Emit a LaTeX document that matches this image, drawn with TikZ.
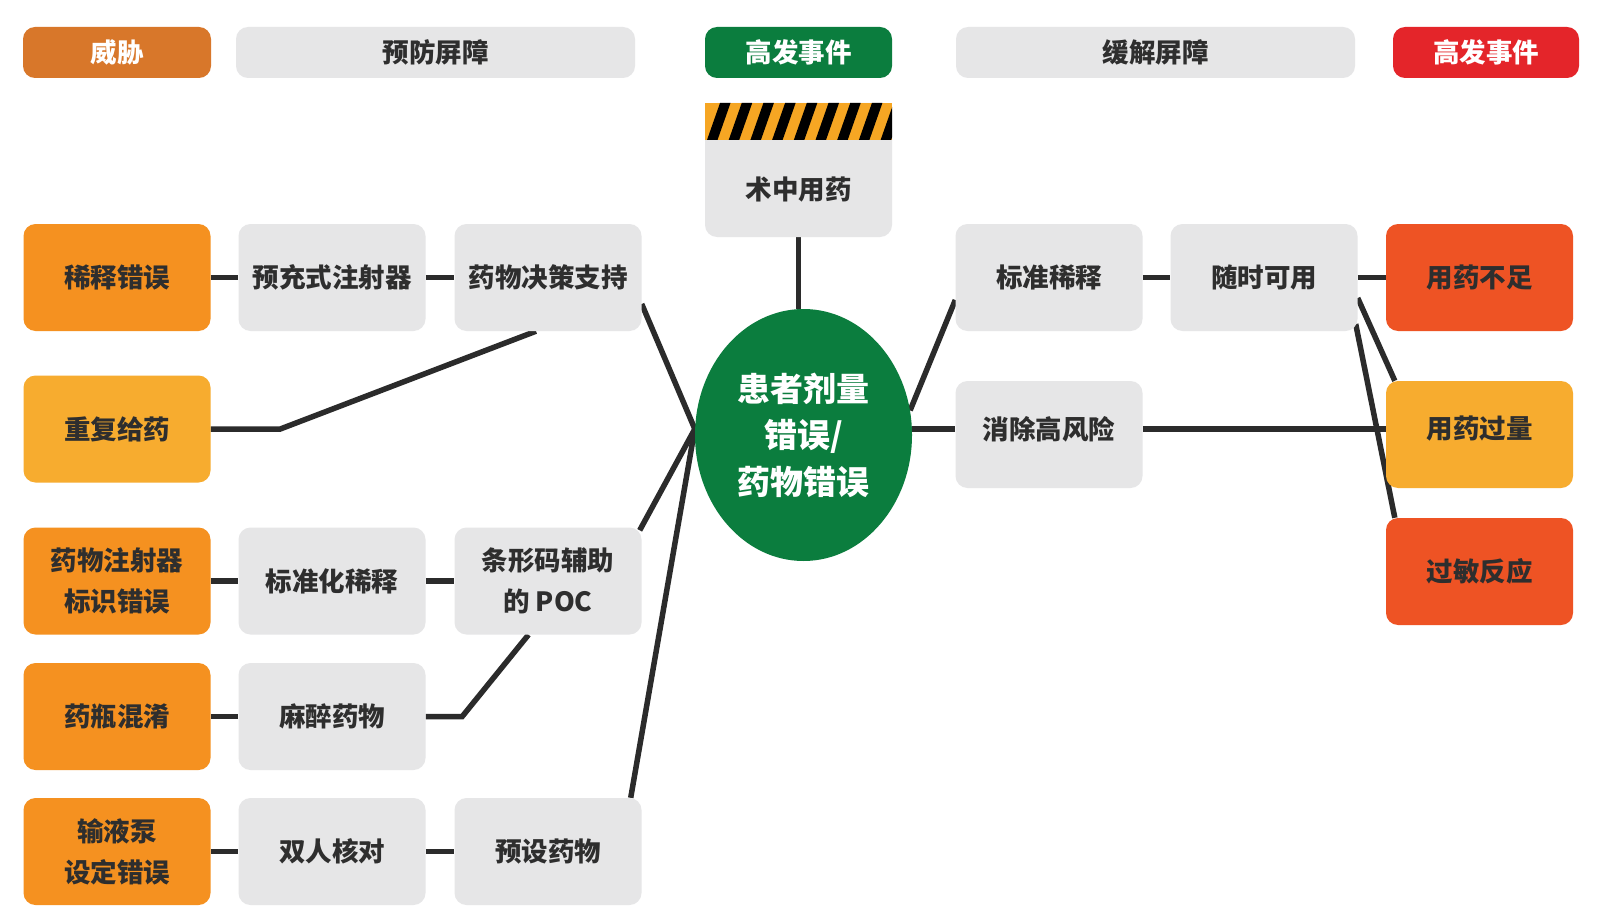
\documentclass[tikz,border=0pt]{standalone}
\usepackage{fontspec}
\setmainfont{Noto Sans CJK SC}[BoldFont={* Black}]
\usetikzlibrary{shapes.geometric,backgrounds}
\definecolor{hdrorg}{HTML}{D8772A}
\definecolor{org}{HTML}{F59120}
\definecolor{ylw}{HTML}{F7AC2F}
\definecolor{redorg}{HTML}{EE5324}
\definecolor{hdrred}{HTML}{E4252A}
\definecolor{grn}{HTML}{0B7D3E}
\definecolor{gry}{HTML}{E6E6E7}
\definecolor{txt}{HTML}{2E2E2E}
\definecolor{lnk}{HTML}{2B2B2B}
\definecolor{stripey}{HTML}{F6A623}
\begin{document}
\begin{tikzpicture}[x=1pt,y=-1pt,
  lbl/.style={font=\fontsize{26.5}{41}\selectfont\bfseries, text=txt, align=center, inner sep=0pt},
  base/.style={lbl, rounded corners=12pt,
    minimum width=187pt, minimum height=107pt},
  hdr/.style={base, minimum height=51pt, font=\fontsize{26.5}{30}\selectfont\bfseries},
  gbox/.style={base, fill=gry},
  obox/.style={base, fill=org},
  ybox/.style={base, fill=ylw},
  rbox/.style={base, fill=redorg},
  link/.style={draw=lnk, line width=5.5pt},
]
\useasboundingbox (0,0) rectangle (1600,912);

% headers
\node[hdr, fill=hdrorg, text=white, minimum width=188pt] (hthreat) at (117,52.5) {威胁};
\node[hdr, fill=gry, minimum width=399pt] (hprev) at (435.5,52.5) {预防屏障};
\node[hdr, fill=grn, text=white, minimum width=187pt] (hevent) at (798.5,52.5) {高发事件};
\node[hdr, fill=gry, minimum width=399pt] (hmit) at (1155.5,52.5) {缓解屏障};
\node[hdr, fill=hdrred, text=white, minimum width=186pt] (hcons) at (1486,52.5) {高发事件};

% intra-operative box with hazard stripe
\node[gbox, minimum height=134pt] (intra) at (798.5,170) {};
\begin{scope}
  \clip (705,103) rectangle (892,140);
  \fill[stripey] (705,103) rectangle (892,140);
  \foreach \k in {0,...,8} {
    \fill[black] ({707+21.7*\k},140) -- ({717.5+21.7*\k},140) -- ({730.5+21.7*\k},103) -- ({720+21.7*\k},103) -- cycle;
  }
\end{scope}
\node[lbl] (intratext) at (798.5,190) {术中用药};

% core
\node[ellipse, fill=grn, minimum width=217pt, minimum height=252pt, inner sep=0pt,
  text=white, align=center, font=\fontsize{33}{46.5}\selectfont\bfseries] (core) at (803.5,435) {患者剂量\\错误/\\药物错误};

% threats
\node[obox] (dil) at (117,277.5) {稀释错误};
\node[ybox] (dup) at (117,429) {重复给药};
\node[obox] (lblerr) at (117,581) {药物注射器\\标识错误};
\node[obox] (vial) at (117,716.5) {药瓶混淆};
\node[obox] (pump) at (117,851.5) {输液泵\\设定错误};

% prevention barriers
\node[gbox] (pre) at (332,277.5) {预充式注射器};
\node[gbox] (dec) at (548,277.5) {药物决策支持};
\node[gbox] (stdz) at (332,581) {标准化稀释};
\node[gbox] (bar) at (548,581) {条形码辅助\\的 POC};
\node[gbox] (anes) at (332,716.5) {麻醉药物};
\node[gbox] (dbl) at (332,851.5) {双人核对};
\node[gbox] (preset) at (548,851.5) {预设药物};

% mitigation barriers
\node[gbox] (std) at (1049,277.5) {标准稀释};
\node[gbox] (avail) at (1264,277.5) {随时可用};
\node[gbox] (elim) at (1049,434.5) {};
\node[lbl] (elimtext) at (1049,429) {消除高风险};

% consequences
\node[rbox] (under) at (1479.5,277.5) {用药不足};
\node[ybox] (over) at (1479.5,434.5) {};
\node[lbl] (overtext) at (1479.5,429) {用药过量};
\node[rbox] (allergy) at (1479.5,571.5) {过敏反应};

\coordinate (convL) at ([yshift=6pt]core.west);
\coordinate (convR) at ([yshift=6pt]core.east);

\begin{pgfonlayer}{background}
  \fill[white] (0,0) rectangle (1600,912);
  \draw[link] (dil.east) -- (pre.west);
  \draw[link] (pre.east) -- (dec.west);
  \draw[link] ([yshift=-26.5pt]dec.east) -- (convL);
  \draw[link] (dup.east) -- ++(69.6,0) -- ([xshift=-12pt]dec.south);
  \draw[link] (lblerr.east) -- (stdz.west);
  \draw[link] (stdz.east) -- (bar.west);
  \draw[link] ([xshift=-2pt,yshift=-3pt]bar.north east) -- (convL);
  \draw[link] (vial.east) -- (anes.west);
  \draw[link] (anes.east) -- ++(36.5,0) -- ([xshift=-19.5pt]bar.south);
  \draw[link] (pump.east) -- (dbl.west);
  \draw[link] (dbl.east) -- (preset.west);
  \draw[link] ([xshift=-11pt]preset.north east) -- (convL);
  \draw[link] (intra.south) -- (intra.south |- core.north);
  \draw[link] (core.13) -- ([yshift=-22.5pt]std.west);
  \draw[link] (convR) -- (convR -| elim.west);
  \draw[link] (convR -| elim.east) -- (convR -| over.west);
  \draw[link] (std.east) -- (avail.west);
  \draw[link] (avail.east) -- (under.west);
  \draw[link] ([yshift=-20.5pt]avail.east) -- ([xshift=9pt]over.north west);
  \draw[link] ([xshift=-2pt,yshift=-46.5pt]avail.east) -- ([xshift=9pt]allergy.north west);
\end{pgfonlayer}
\end{tikzpicture}
\end{document}
